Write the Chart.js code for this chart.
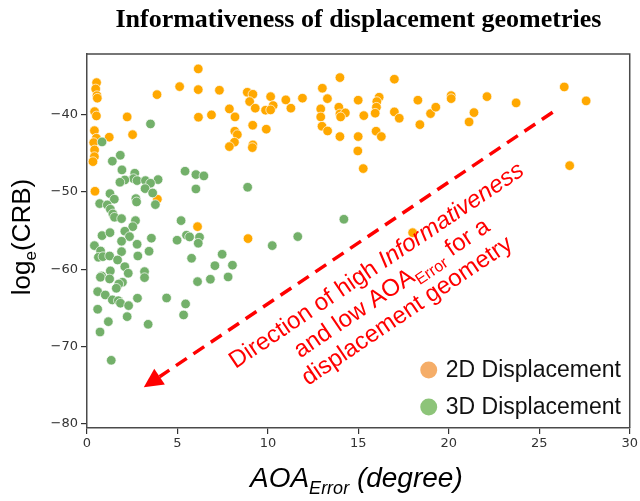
<!DOCTYPE html>
<html>
<head>
<meta charset="utf-8">
<script src="https://cdn.jsdelivr.net/npm/chart.js@4.4.1/dist/chart.umd.min.js"></script>
<style>
  html, body { margin: 0; padding: 0; background: #fff; }
  canvas { display: block; }
</style>
</head>
<body>
<canvas id="c" width="640" height="501"></canvas>
<script>
// AOA error (degrees) and log_e(CRB) for the 2D displacement geometries
const disp2dX = [6.15,0.53,0.48,0.55,0.57,3.87,5.12,6.15,7.32,8.86,9.17,8.99,10.15,10.29,9.87,10.15,9.30,7.87,8.18,0.42,
  0.52,2.22,6.16,6.88,9.16,9.91,0.41,0.52,1.23,2.52,8.17,8.31,8.15,7.87,9.17,9.14,0.37,0.42,0.41,0.33,
  0.44,3.89,6.11,8.90,10.99,11.27,11.91,13.01,13.98,13.29,12.92,12.92,12.99,13.30,13.92,13.98,14.28,14.02,13.98,14.99,
  15.30,14.99,14.97,15.27,16.15,16.02,16.00,15.93,15.98,16.27,16.99,16.99,17.26,18.29,18.40,18.99,19.28,20.13,20.13,21.39,
  21.12,22.11,23.72,26.38,27.59,26.68,18.00];
const disp2dY = [-34.03,-35.81,-36.63,-37.50,-37.83,-37.37,-36.33,-36.72,-36.80,-37.06,-37.32,-38.27,-37.63,-38.79,-39.39,-39.35,-39.13,-39.22,-40.26,-39.57,
  -40.13,-40.26,-40.30,-40.00,-41.34,-41.85,-42.04,-43.02,-42.89,-42.56,-42.11,-42.56,-43.54,-44.11,-43.89,-44.24,-43.59,-44.54,-45.41,-46.06,
  -49.90,-50.93,-54.49,-56.04,-38.05,-39.13,-37.83,-36.54,-35.16,-37.89,-39.22,-40.26,-41.47,-42.08,-39.00,-39.87,-39.74,-40.26,-42.81,-38.09,
  -40.09,-42.81,-44.67,-46.96,-37.70,-38.27,-39.00,-39.78,-42.11,-42.81,-35.37,-39.61,-40.43,-38.09,-41.26,-39.83,-39.00,-37.50,-37.89,-39.70,
  -40.91,-37.63,-38.44,-36.37,-38.18,-46.58,-55.27];

// AOA error (degrees) and log_e(CRB) for the 3D displacement geometries
const disp3dX = [0.83,1.84,1.40,1.93,2.64,2.57,2.09,1.82,2.77,3.23,3.93,3.51,3.21,3.63,5.42,6.02,6.46,6.02,8.88,1.27,
  1.51,0.70,1.12,1.29,1.43,1.52,1.91,2.70,2.74,3.78,2.68,2.53,5.20,0.83,1.27,2.09,2.35,1.91,2.77,3.56,
  4.98,5.50,5.67,6.22,6.15,0.41,10.24,0.75,0.63,0.88,1.25,1.91,2.81,3.43,1.69,2.09,2.28,1.29,0.81,0.74,
  1.25,1.96,1.76,1.62,0.59,1.01,1.40,1.73,1.85,2.30,2.79,3.18,3.18,4.40,5.45,5.34,5.78,6.11,6.82,7.07,
  7.47,7.80,8.04,0.59,2.22,1.18,0.72,3.38,1.34,3.51,14.20,11.65];
const disp3dY = [-43.50,-45.23,-46.00,-47.13,-47.56,-48.26,-48.43,-48.73,-48.52,-48.52,-48.39,-48.86,-49.56,-50.12,-47.30,-47.74,-47.91,-49.60,-49.38,-50.21,
  -50.93,-51.50,-51.67,-52.23,-52.84,-53.27,-53.45,-50.86,-51.28,-51.63,-53.71,-54.49,-53.71,-55.65,-55.27,-55.08,-55.78,-56.38,-56.77,-55.99,
  -56.25,-55.60,-55.82,-55.86,-56.64,-56.95,-56.95,-57.64,-58.46,-58.38,-58.29,-57.73,-58.29,-57.68,-58.81,-59.68,-60.53,-60.23,-60.88,-61.05,
  -61.27,-61.70,-61.92,-62.48,-62.92,-63.35,-63.99,-64.09,-64.42,-64.73,-63.77,-60.32,-61.10,-63.74,-64.51,-65.94,-58.59,-61.62,-61.31,-59.55,
  -58.07,-61.01,-59.49,-65.20,-66.16,-66.81,-68.15,-67.15,-71.82,-41.17,-53.53,-55.78];

const xTicks = [0, 5, 10, 15, 20, 25, 30];
const yTicks = [-80, -70, -60, -50, -40];
const seriesNames = ['2D Displacement', '3D Displacement'];

// Annotation arrow (data coordinates): tail and tip
const arrowFrom = [25.74, -39.65];
const arrowTo = [3.14, -75.32];
// Anchor for the first caption line's baseline centre (data coordinates)
const captionAnchor = [16.22, -60.3];

const pts = (xs, ys) => xs.map((x, i) => ({ x: x, y: ys[i] }));

const ORANGE = '#ffa800';
const GREEN = 'rgb(115,176,106)';
const LEG_ORANGE = 'rgb(245,173,104)';
const LEG_GREEN = 'rgb(141,196,121)';

// Draws several text segments (with optional sub-scripts) centred on x = 0
function drawRich(ctx, segs) {
  let total = 0;
  segs.forEach(s => { ctx.font = s.font; s.w = ctx.measureText(s.text).width; total += s.w; });
  let x = -total / 2;
  segs.forEach(s => {
    ctx.font = s.font;
    ctx.fillText(s.text, x, s.dy || 0);
    x += s.w;
  });
}

const decorations = {
  id: 'decorations',
  afterDraw(chart) {
    const { ctx, chartArea: a, scales } = chart;
    const sx = scales.x, sy = scales.y;
    ctx.save();

    // frame: top and right edges
    ctx.strokeStyle = '#4a4a4a';
    ctx.lineWidth = 1.5;
    ctx.beginPath();
    ctx.moveTo(a.left, a.top);
    ctx.lineTo(a.right, a.top);
    ctx.lineTo(a.right, a.bottom);
    ctx.stroke();

    // title
    ctx.fillStyle = '#000';
    ctx.textAlign = 'left';
    ctx.textBaseline = 'alphabetic';
    ctx.save();
    ctx.translate((a.left + a.right) / 2, 27);
    drawRich(ctx, [{ text: 'Informativeness of displacement geometries', font: 'bold 26px "Liberation Serif", "Times New Roman", serif' }]);
    ctx.restore();

    // y-axis title
    ctx.save();
    ctx.translate(30, 237);
    ctx.rotate(-Math.PI / 2);
    drawRich(ctx, [
      { text: 'log', font: '26px "Liberation Sans", Arial, sans-serif' },
      { text: 'e', font: '17px "Liberation Sans", Arial, sans-serif', dy: 6 },
      { text: '(CRB)', font: '26px "Liberation Sans", Arial, sans-serif' }
    ]);
    ctx.restore();

    // x-axis title
    ctx.save();
    ctx.translate((a.left + a.right) / 2 - 2, 487);
    drawRich(ctx, [
      { text: 'AOA', font: 'italic 28px "Liberation Sans", Arial, sans-serif' },
      { text: 'Error', font: 'italic 18px "Liberation Sans", Arial, sans-serif', dy: 7 },
      { text: ' (degree)', font: 'italic 28px "Liberation Sans", Arial, sans-serif' }
    ]);
    ctx.restore();

    // dashed arrow
    const x0 = sx.getPixelForValue(arrowFrom[0]), y0 = sy.getPixelForValue(arrowFrom[1]);
    const x1 = sx.getPixelForValue(arrowTo[0]), y1 = sy.getPixelForValue(arrowTo[1]);
    const ang = Math.atan2(y1 - y0, x1 - x0);
    const headLen = 19, headHalf = 9.5;
    const bx = x1 - headLen * Math.cos(ang), by = y1 - headLen * Math.sin(ang);
    ctx.strokeStyle = '#ff0000';
    ctx.fillStyle = '#ff0000';
    ctx.lineWidth = 3.5;
    ctx.setLineDash([13, 8]);
    ctx.beginPath();
    ctx.moveTo(x0, y0);
    ctx.lineTo(bx, by);
    ctx.stroke();
    ctx.setLineDash([]);
    ctx.beginPath();
    ctx.moveTo(x1, y1);
    ctx.lineTo(bx + headHalf * Math.sin(ang), by - headHalf * Math.cos(ang));
    ctx.lineTo(bx - headHalf * Math.sin(ang), by + headHalf * Math.cos(ang));
    ctx.closePath();
    ctx.fill();

    // rotated caption
    const cx = sx.getPixelForValue(captionAnchor[0]), cy = sy.getPixelForValue(captionAnchor[1]);
    const rot = Math.atan2(y1 - y0, x1 - x0) + Math.PI; // parallel to the arrow, reading upwards
    const reg = '24px "Liberation Sans", Arial, sans-serif';
    const ita = 'italic 24px "Liberation Sans", Arial, sans-serif';
    const sub = '16px "Liberation Sans", Arial, sans-serif';
    const lines = [
      [{ text: 'Direction of high ', font: reg }, { text: 'Informativeness', font: ita }],
      [{ text: 'and low AOA', font: reg }, { text: 'Error', font: sub, dy: 6 }, { text: ' for a', font: reg }],
      [{ text: 'displacement geometry', font: reg }]
    ];
    ctx.save();
    ctx.translate(cx, cy);
    ctx.rotate(rot);
    ctx.fillStyle = '#ff0000';
    lines.forEach((ln, i) => {
      ctx.save();
      ctx.translate(0, i * 27.3);
      drawRich(ctx, ln);
      ctx.restore();
    });
    ctx.restore();

    // legend
    const legX = a.right - 201;
    const legY = [a.bottom - 58, a.bottom - 21];
    const legC = [LEG_ORANGE, LEG_GREEN];
    ctx.textBaseline = 'middle';
    ctx.textAlign = 'left';
    ctx.font = '23px "Liberation Sans", Arial, sans-serif';
    seriesNames.forEach((name, i) => {
      ctx.fillStyle = legC[i];
      ctx.beginPath();
      ctx.arc(legX, legY[i], 8.5, 0, Math.PI * 2);
      ctx.fill();
      ctx.fillStyle = '#111';
      ctx.fillText(name, legX + 17, legY[i] + 1);
    });

    ctx.restore();
  }
};

new Chart(document.getElementById('c'), {
  type: 'scatter',
  data: {
    datasets: [
      {
        label: seriesNames[0],
        data: pts(disp2dX, disp2dY),
        backgroundColor: ORANGE,
        borderColor: 'rgba(255,255,255,0.85)',
        borderWidth: 0.8,
        pointRadius: 4.8,
        order: 1
      },
      {
        label: seriesNames[1],
        data: pts(disp3dX, disp3dY),
        backgroundColor: GREEN,
        borderColor: 'rgba(255,255,255,0.85)',
        borderWidth: 0.8,
        pointRadius: 4.8,
        order: 0
      }
    ]
  },
  options: {
    responsive: false,
    animation: false,
    devicePixelRatio: 1,
    layout: { padding: { top: 54, right: 8, left: 0, bottom: 0 } },
    plugins: { legend: { display: false }, tooltip: { enabled: false }, title: { display: false } },
    scales: {
      x: {
        type: 'linear',
        min: 0,
        max: 30,
        afterFit(s) { s.height = 73; },
        afterBuildTicks(s) { s.ticks = xTicks.map(v => ({ value: v })); },
        grid: { drawOnChartArea: false, drawTicks: true, tickLength: 6, color: '#333', lineWidth: 1.2 },
        border: { display: true, color: '#4a4a4a', width: 1.5 },
        ticks: {
          color: '#333',
          padding: 2,
          maxRotation: 0,
          font: { family: '"DejaVu Sans", sans-serif', size: 13 },
          callback: v => String(v)
        }
      },
      y: {
        type: 'linear',
        min: -80.6,
        max: -32.1,
        afterFit(s) { s.width = 87; },
        afterBuildTicks(s) { s.ticks = yTicks.map(v => ({ value: v })); },
        grid: { drawOnChartArea: false, drawTicks: true, tickLength: 6, color: '#333', lineWidth: 1.2 },
        border: { display: true, color: '#4a4a4a', width: 1.5 },
        ticks: {
          color: '#333',
          padding: 3,
          font: { family: '"DejaVu Sans", sans-serif', size: 13 },
          callback: v => (v < 0 ? '\u2212' + Math.abs(v) : String(v))
        }
      }
    }
  },
  plugins: [decorations]
});
</script>
</body>
</html>
